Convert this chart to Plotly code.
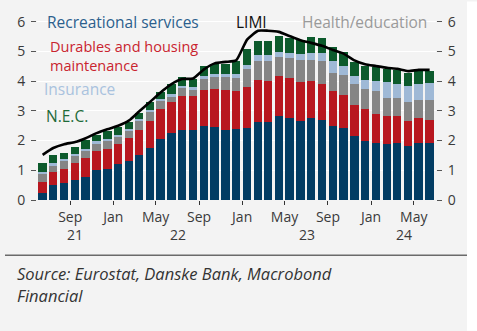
import plotly.graph_objects as go
import pandas as pd

months = pd.date_range("2021-06-01", "2024-06-01", freq="MS")
dates = [d + pd.Timedelta(days=14) for d in months]

# cumulative tops (pp contribution), bottom -> top
recreational = [0.22, 0.49, 0.56, 0.68, 0.79, 1.01, 1.04, 1.20, 1.31, 1.52, 1.75, 2.04, 2.27, 2.37, 2.35, 2.50, 2.45, 2.37, 2.38,
                2.43, 2.64, 2.63, 2.82, 2.77, 2.66, 2.75, 2.69, 2.48, 2.41, 2.14, 1.99, 1.93, 1.90, 1.92, 1.82, 1.93, 1.92]
top_durables = [0.62, 0.93, 1.05, 1.24, 1.41, 1.65, 1.73, 1.90, 2.10, 2.36, 2.66, 3.07, 3.30, 3.50, 3.49, 3.72, 3.75, 3.69, 3.66,
                3.82, 4.04, 4.02, 4.18, 4.12, 3.96, 4.01, 3.92, 3.66, 3.53, 3.20, 3.06, 2.91, 2.82, 2.82, 2.66, 2.77, 2.71]
top_health = [0.87, 1.15, 1.30, 1.47, 1.65, 1.90, 1.97, 2.13, 2.33, 2.66, 2.97, 3.32, 3.48, 3.78, 3.71, 4.08, 4.15, 4.13, 4.12,
              4.40, 4.67, 4.67, 4.83, 4.78, 4.72, 4.72, 4.67, 4.29, 4.21, 3.91, 3.75, 3.67, 3.45, 3.42, 3.31, 3.36, 3.36]
top_insurance = [0.95, 1.23, 1.37, 1.54, 1.72, 1.97, 2.05, 2.20, 2.40, 2.74, 3.04, 3.39, 3.57, 3.85, 3.80, 4.16, 4.25, 4.23, 4.25,
                 4.56, 4.89, 4.89, 4.99, 4.94, 4.91, 4.94, 4.94, 4.67, 4.51, 4.18, 4.04, 3.99, 3.96, 3.91, 3.85, 3.91, 3.93]
top_nec = [1.23, 1.50, 1.58, 1.79, 2.01, 2.20, 2.33, 2.45, 2.63, 2.92, 3.29, 3.62, 3.92, 4.14, 4.07, 4.50, 4.58, 4.59, 4.67,
           5.10, 5.37, 5.37, 5.51, 5.46, 5.40, 5.48, 5.46, 5.16, 4.99, 4.65, 4.51, 4.47, 4.42, 4.38, 4.29, 4.34, 4.36]
limi = [1.52, 1.75, 1.88, 1.95, 2.08, 2.25, 2.38, 2.50, 2.68, 2.98, 3.30, 3.62, 3.90, 4.07, 4.09, 4.40, 4.60, 4.65, 4.70,
        5.40, 5.70, 5.70, 5.66, 5.52, 5.38, 5.29, 5.19, 5.05, 4.93, 4.70, 4.57, 4.51, 4.45, 4.42, 4.34, 4.38, 4.38]

durables = [b - a for a, b in zip(recreational, top_durables)]
health = [b - a for a, b in zip(top_durables, top_health)]
insurance = [b - a for a, b in zip(top_health, top_insurance)]
nec = [b - a for a, b in zip(top_insurance, top_nec)]

tick_vals = ["2021-09-01", "2022-01-01", "2022-05-01", "2022-09-01", "2023-01-01",
             "2023-05-01", "2023-09-01", "2024-01-01", "2024-05-01"]
tick_text = ["Sep", "Jan", "May", "Sep", "Jan", "May", "Sep", "Jan", "May"]
x_range = ["2021-05-30", "2024-07-03"]
years = ["21", "22", "23", "24"]

C_BLUE, C_RED, C_GRAY, C_LBLUE, C_GREEN = "#023c63", "#b8171f", "#858585", "#9fb9d6", "#0c5a2c"
BG = "#f3f3f3"
FONT = "Open Sans"

fig = go.Figure()
for name, vals, col in [("Recreational services", recreational, C_BLUE),
                        ("Durables and housing maintenance", durables, C_RED),
                        ("Health/education", health, C_GRAY),
                        ("Insurance", insurance, C_LBLUE),
                        ("N.E.C.", nec, C_GREEN)]:
    fig.add_trace(go.Bar(x=dates, y=vals, name=name, marker=dict(color=col, line=dict(width=0))))

fig.add_trace(go.Scatter(x=dates, y=limi, name="LIMI", mode="lines", yaxis="y2",
                         line=dict(color="#000000", width=2.6, shape="spline", smoothing=0.5)))

yr = [0, 6.06]
axis_font = dict(family=FONT, size=14, color="#3a3a3a")
fig.update_layout(
    width=477, height=331,
    margin=dict(l=37, r=41, t=14, b=131),
    barmode="stack", bargap=0.14,
    paper_bgcolor=BG, plot_bgcolor=BG,
    showlegend=False,
    font=dict(family=FONT),
    xaxis=dict(type="date", range=x_range, tickvals=tick_vals, ticktext=tick_text,
               ticks="outside", ticklen=4, tickcolor="#333", tickwidth=1.3,
               showgrid=False, zeroline=False, showline=False, tickfont=axis_font),
    yaxis=dict(range=yr, tickvals=[0, 1, 2, 3, 4, 5, 6], ticks="outside", ticklen=5,
               tickcolor="#555", tickwidth=1.3, showgrid=True, gridcolor="#ffffff", gridwidth=1,
               zeroline=False, showline=False, tickfont=axis_font, ticklabelstandoff=3),
    yaxis2=dict(range=yr, overlaying="y", side="right", tickvals=[0, 1, 2, 3, 4, 5, 6],
                ticks="outside", ticklen=5, tickcolor="#555", tickwidth=1.3, showgrid=False,
                zeroline=False, showline=False, tickfont=axis_font, ticklabelstandoff=3),
)

# year labels centred on the visible part of each year
lo, hi = pd.Timestamp(x_range[0]), pd.Timestamp(x_range[1])
for y in years:
    start = max(pd.Timestamp(f"20{y}-01-01"), lo)
    end = min(pd.Timestamp(f"20{int(y)+1}-01-01"), hi)
    mid = start + (end - start) / 2
    fig.add_annotation(x=mid, y=-0.19, xref="x", yref="paper", text=y, showarrow=False,
                       font=axis_font, xanchor="center", yanchor="middle")

def lab(text, x, y, color, xanchor="left", size=15.5):
    fig.add_annotation(x=x, y=y, xref="paper", yref="paper", text=text, showarrow=False,
                       xanchor=xanchor, yanchor="middle", align="left",
                       font=dict(family=FONT, size=size, color=color))

lab("Recreational services", 0.02, 0.99, "#2c5f8d")
lab("LIMI", 0.494, 0.99, "#111111")
lab("Health/education", 0.982, 0.99, "#9a9a9a", xanchor="right")
lab("Durables and housing<br>maintenance", 0.028, 0.80, "#c9242f", size=14.5)
lab("Insurance", 0.012, 0.614, "#a9c2de")
lab("N.E.C.", 0.017, 0.469, "#1f6b39")

# separator line and source
fig.add_shape(type="line", xref="paper", yref="paper", x0=(5 - 37) / 399, x1=(467 - 37) / 399,
              y0=(200 - 257) / 186, y1=(200 - 257) / 186, line=dict(color="#6a6a6a", width=1.5))
fig.add_annotation(x=(15 - 37) / 399, y=(200 - 276) / 186, xref="paper", yref="paper",
                   text="<i>Source: Eurostat, Danske Bank, Macrobond</i>", showarrow=False,
                   xanchor="left", yanchor="middle", font=dict(family=FONT, size=16.5, color="#333333"))
fig.add_annotation(x=(15 - 37) / 399, y=(200 - 299) / 186, xref="paper", yref="paper",
                   text="<i>Financial</i>", showarrow=False,
                   xanchor="left", yanchor="middle", font=dict(family=FONT, size=16.5, color="#333333"))
# white strip at the right edge
fig.add_shape(type="rect", xref="paper", yref="paper", x0=(467 - 37) / 399, x1=(480 - 37) / 399,
              y0=(200 - 335) / 186, y1=(200 + 5) / 186, fillcolor="#ffffff", line=dict(width=0), layer="above")

fig.write_html("out.html")
